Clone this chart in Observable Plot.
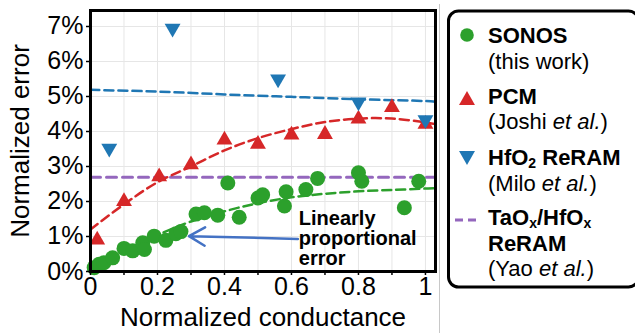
<!DOCTYPE html>
<html>
<head>
<meta charset="utf-8">
<script src="https://cdn.jsdelivr.net/npm/d3@7"></script>
<script src="https://cdn.jsdelivr.net/npm/@observablehq/plot@0.6"></script>
<style>
  body { margin: 0; background: white; }
  #chart { width: 635px; height: 333px; }
</style>
</head>
<body>
<div id="chart"></div>
<script>
// ---- Data ----
// SONOS (this work) – green circles
const sonosX = [0.011, 0.026, 0.04, 0.066, 0.10, 0.126, 0.156, 0.161, 0.19, 0.225, 0.255, 0.27, 0.315, 0.34, 0.38, 0.41, 0.444, 0.50, 0.514, 0.579, 0.584, 0.643, 0.678, 0.80, 0.81, 0.937, 0.98];
const sonosY = [0.11, 0.21, 0.25, 0.39, 0.66, 0.59, 0.82, 0.63, 1.01, 0.89, 1.08, 1.14, 1.64, 1.68, 1.61, 2.53, 1.55, 2.10, 2.19, 1.87, 2.28, 2.34, 2.66, 2.82, 2.58, 1.82, 2.58];
// PCM (Joshi et al.) – red up triangles
const pcmX = [0.02, 0.10, 0.205, 0.30, 0.40, 0.50, 0.60, 0.70, 0.80, 0.90, 1.00];
const pcmY = [0.90, 2.00, 2.71, 3.05, 3.76, 3.64, 3.90, 3.92, 4.36, 4.69, 4.21];
// HfO2 ReRAM (Milo et al.) – blue down triangles
const hfoX = [0.056, 0.245, 0.56, 0.80, 1.00];
const hfoY = [3.52, 6.95, 5.50, 4.84, 4.33];
// Dashed fit lines
const hfoFitX = [0, 0.2, 0.4, 0.6, 0.8, 1.0, 1.03];
const hfoFitY = [5.19, 5.14, 5.06, 4.99, 4.92, 4.87, 4.85];
const pcmFitX = [0, 0.1, 0.2, 0.3, 0.4, 0.5, 0.6, 0.7, 0.8, 0.9, 1.0, 1.03];
const pcmFitY = [1.20, 1.92, 2.55, 3.00, 3.46, 3.81, 4.07, 4.27, 4.37, 4.37, 4.26, 4.21];
const sonosFitX = [0.18, 0.3, 0.4, 0.5, 0.6, 0.7, 0.8, 0.9, 1.0, 1.03];
const sonosFitY = [0.96, 1.43, 1.72, 1.95, 2.12, 2.22, 2.29, 2.33, 2.37, 2.38];
// TaOx/HfOx ReRAM (Yao et al.) – constant level
const yaoX = [0, 1.03];
const yaoY = [2.69, 2.69];
// Axis ticks
const xTicks = [0, 0.2, 0.4, 0.6, 0.8, 1];
const xMinorTicks = [0.1, 0.3, 0.5, 0.7, 0.9];
const yTicks = [0, 1, 2, 3, 4, 5, 6, 7];
// Annotation
const annotText = ["Linearly\nproportional\nerror"];
const annotPos = [0.622, 1.73];
const arrowFrom = [0.619, 0.93];
const arrowTo = [0.294, 1.01];
// Legend
const legendNames = ["SONOS", "PCM", "HfO_2 ReRAM", "TaO_x/HfO_x\nReRAM"];
const legendRefs = ["(this work)", "(Joshi *et al.*)", "(Milo *et al.*)", "(Yao *et al.*)"];

const pts = (xs, ys) => xs.map((x, i) => ({x, y: ys[i]}));
const green = "#2ca02c", red = "#d62728", blue = "#1f77b4", purple = "#9467bd";

const chart = Plot.plot({
  width: 635,
  height: 333,
  marginLeft: 90,
  marginRight: 200,
  marginTop: 10,
  marginBottom: 62,
  x: {domain: [0, 1.03]},
  y: {domain: [0, 7.457]},
  style: {fontFamily: "'Liberation Sans', Arial, sans-serif", fontSize: "25px", background: "white", color: "black", overflow: "visible"},
  marks: [
    Plot.gridX(xTicks.concat(xMinorTicks), {stroke: "#e6e6e6", strokeOpacity: 1, strokeWidth: 1}),
    Plot.gridY(yTicks, {stroke: "#e6e6e6", strokeOpacity: 1, strokeWidth: 1}),
    Plot.line(pts(yaoX, yaoY), {x: "x", y: "y", stroke: purple, strokeWidth: 3, strokeDasharray: "10,6"}),
    Plot.line(pts(hfoFitX, hfoFitY), {x: "x", y: "y", stroke: blue, strokeWidth: 2.5, strokeDasharray: "9,5", curve: "catmull-rom"}),
    Plot.line(pts(pcmFitX, pcmFitY), {x: "x", y: "y", stroke: red, strokeWidth: 2.5, strokeDasharray: "9,5", curve: "catmull-rom"}),
    Plot.line(pts(sonosFitX, sonosFitY), {x: "x", y: "y", stroke: green, strokeWidth: 2.5, strokeDasharray: "9,5", curve: "catmull-rom"}),
    Plot.dot(pts(sonosX, sonosY), {x: "x", y: "y", r: 7.5, fill: green}),
    Plot.dot(pts(pcmX, pcmY), {x: "x", y: "y", r: 5.9, symbol: "triangle", fill: red}),
    Plot.dot(pts(hfoX, hfoY), {x: "x", y: "y", r: 5.9, symbol: "triangle", rotate: 180, fill: blue}),
    Plot.frame({stroke: "black", strokeWidth: 3}),
    Plot.axisX({ticks: xMinorTicks, tickFormat: () => "", tickSize: 4, strokeWidth: 1.5, label: null}),
    Plot.axisX({ticks: xTicks, tickFormat: d => String(d), tickSize: 4, tickPadding: 2, strokeWidth: 1.5, label: null}),
    Plot.axisY({ticks: yTicks, tickFormat: d => d + "%", tickSize: 4, tickPadding: 3, strokeWidth: 1.5, label: null}),
    Plot.text(["Normalized error"], {text: d => d, frameAnchor: "left", dx: -70, rotate: -90, fontSize: 26, textAnchor: "middle", lineAnchor: "middle"}),
    Plot.text(["Normalized conductance"], {text: d => d, frameAnchor: "bottom", dy: 46, fontSize: 26, textAnchor: "middle", lineAnchor: "middle"}),
    Plot.arrow([0], {x1: () => arrowFrom[0], y1: () => arrowFrom[1], x2: () => arrowTo[0], y2: () => arrowTo[1], stroke: "#4472c4", strokeWidth: 2.5, headLength: 11}),
    Plot.text(annotText, {x: () => annotPos[0], y: () => annotPos[1], text: d => d, fontSize: 20, fontWeight: "bold", textAnchor: "start", lineAnchor: "top", lineHeight: 1.0})
  ]
});
document.getElementById("chart").append(chart);

// ---- Legend (drawn to the right of the plot) ----
const svg = d3.select(chart);
const lg = svg.append("g")
  .attr("font-family", "'Liberation Sans', Arial, sans-serif")
  .attr("font-size", 22)
  .attr("fill", "black")
  .attr("text-anchor", "start");
lg.append("line").attr("x1", 439.5).attr("x2", 439.5).attr("y1", 4).attr("y2", 333).attr("stroke", "#c8c8c8").attr("stroke-width", 1);
lg.append("rect").attr("x", 448.5).attr("y", 11).attr("width", 190).attr("height", 276).attr("rx", 10)
  .attr("fill", "white").attr("stroke", "black").attr("stroke-width", 3);

// symbols
lg.append("circle").attr("cx", 467).attr("cy", 35).attr("r", 6.8).attr("fill", green);
lg.append("path").attr("d", d3.symbol(d3.symbolTriangle, 110)()).attr("transform", "translate(467,100.3)").attr("fill", red);
lg.append("path").attr("d", d3.symbol(d3.symbolTriangle, 110)()).attr("transform", "translate(467,155.7) rotate(180)").attr("fill", blue);
lg.append("line").attr("x1", 455).attr("x2", 479).attr("y1", 220).attr("y2", 220).attr("stroke", purple).attr("stroke-width", 3).attr("stroke-dasharray", "8,5");

function richLine(sel, str, x, y, weight) {
  const t = sel.append("text").attr("x", x).attr("y", y).attr("font-weight", weight).attr("text-anchor", "start");
  // parse _x subscripts and *italic*
  const re = /(_.)|(\*[^*]+\*)|([^_*]+)/g;
  let m, shifted = false;
  while ((m = re.exec(str))) {
    if (m[1]) {
      t.append("tspan").attr("font-size", 14).attr("dy", 3).text(m[1].slice(1));
      shifted = true;
    } else {
      const ts = t.append("tspan");
      if (shifted) { ts.attr("dy", -3); shifted = false; }
      if (m[2]) ts.attr("font-style", "italic").text(m[2].slice(1, -1));
      else ts.text(m[3]);
    }
  }
}
const nameBase = [43, 104, 165, 225];
const nameStep = [25, 25, 25, 26];
const refBase = [69, 129, 191, 276];
legendNames.forEach((name, i) => {
  name.split("\n").forEach((ln, j) => richLine(lg, ln, 488, nameBase[i] + j * nameStep[i], "bold"));
  richLine(lg, legendRefs[i], 488, refBase[i], "normal");
});
</script>
</body>
</html>
